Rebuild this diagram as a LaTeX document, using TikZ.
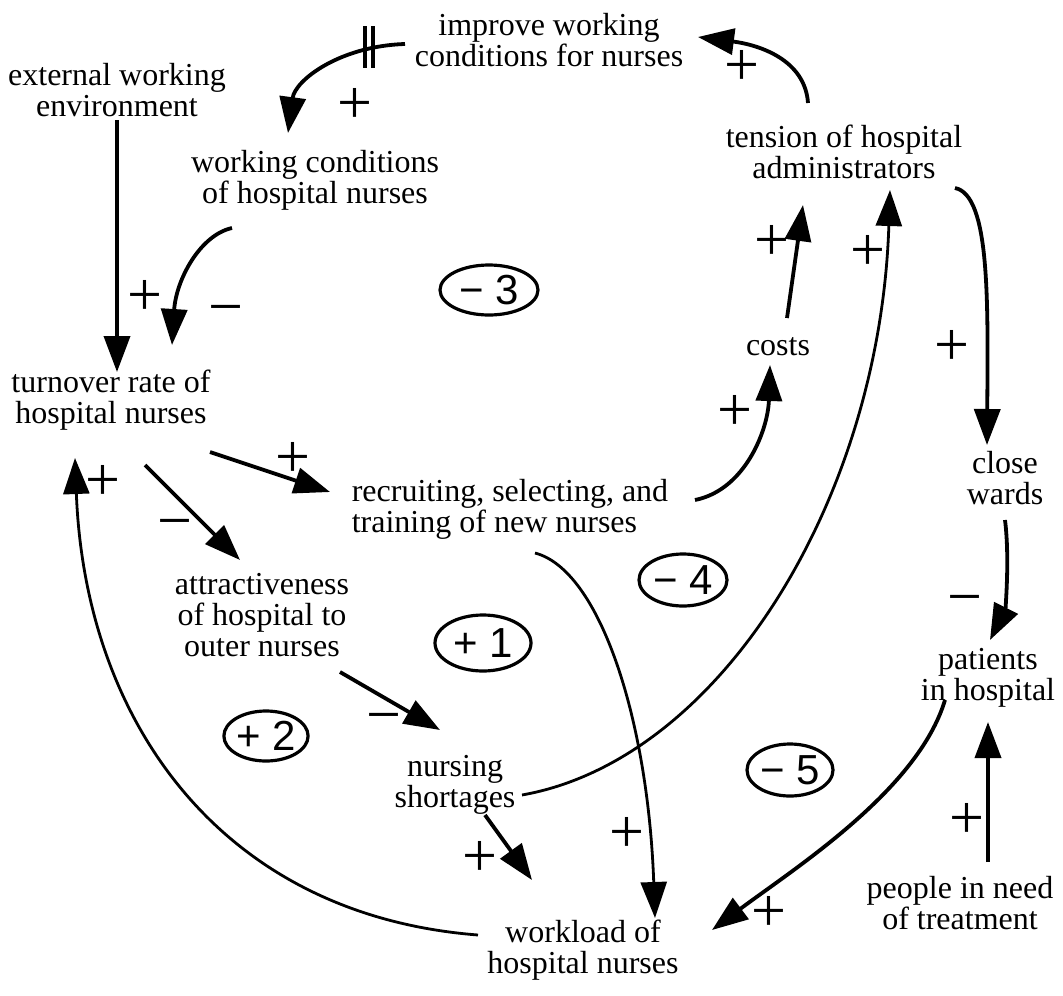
\documentclass[tikz,border=0pt]{standalone}
\usepackage{fontspec}
\setmainfont{Liberation Serif}
\newfontfamily\loopsans{Liberation Sans}
\usetikzlibrary{arrows.meta,shapes.geometric}
\newcommand\varfont{\fontsize{32}{31}\selectfont}
\newcommand\polfont{\fontsize{62}{62}\selectfont}
\newcommand\loopfont{\loopsans\fontsize{42}{42}\selectfont}
\tikzset{
  var/.style={font=\varfont, align=center, inner sep=1pt},
  lnk/.style={line width=3.8pt, -{Triangle[length=36pt,width=26pt]}},
  thinlnk/.style={line width=2.8pt, -{Triangle[length=36pt,width=26pt]}},
  pol/.style={font=\polfont, inner sep=0pt, text height=31.4pt, text depth=0pt},
  loopl/.style={ellipse, draw, line width=3.2pt, font=\loopfont, inner sep=0pt},
  delaybar/.style={line width=3.2pt}
}
\begin{document}
\begin{tikzpicture}[x=1pt,y=-1pt]
\useasboundingbox (0,0) rectangle (1063,996);
% variables
\node[var] (imp) at (549,40) {improve working\\conditions for nurses};
\node[var] (ext) at (117,90) {external working\\environment};
\node[var] (wc) at (315,180) {working conditions\\of hospital nurses};
\node[var] (ten) at (844,152) {tension of hospital\\administrators};
\node[var] (cost) at (778,347) {costs};
\node[var] (turn) at (111,400) {turnover rate of\\hospital nurses};
\node[var] (close) at (1005,478) {close\\wards};
\node[var, align=left] (rec) at (510,509) {recruiting, selecting, and\\training of new nurses};
\node[var] (att) at (262,615) {attractiveness\\of hospital to\\outer nurses};
\node[var] (pat) at (988,678) {patients\\in hospital};
\node[var] (short) at (455,785) {nursing\\shortages};
\node[var] (peop) at (960,903) {people in need\\of treatment};
\node[var] (work) at (583,950) {workload of\\hospital nurses};
% loop labels
\node[loopl, minimum width=98pt, minimum height=50pt] (l3) at (489,290) {− 3};
\node[loopl, minimum width=88pt, minimum height=52pt] (l4) at (683,580) {− 4};
\node[loopl, minimum width=96pt, minimum height=56pt] (l1) at (483,643) {+ 1};
\node[loopl, minimum width=82pt, minimum height=50pt] (l2) at (266,736) {+ 2};
\node[loopl, minimum width=86pt, minimum height=52pt] (l5) at (790,770) {− 5};
% links
\draw[lnk] ([shift={(-144,4)}]imp.center) .. controls (340,46) and (295,80) .. ([shift={(-27,-47)}]wc.center);
\draw[delaybar] (365,26) -- (365,68);
\draw[delaybar] (373,26) -- (373,68);
\draw[lnk] ([shift={(-36,-49)}]ten.center) .. controls (805,60) and (760,45) .. ([shift={(149,-3)}]imp.center);
\draw[lnk] ([shift={(0,30)}]ext.center) -- ([shift={(6,-28)}]turn.center);
\draw[lnk] ([shift={(-83,48)}]wc.center) .. controls (200,235) and (176,280) .. ([shift={(61,-55)}]turn.center);
\draw[lnk] ([shift={(99,52)}]turn.center) -- ([shift={(-180,-17)}]rec.center);
\draw[lnk] ([shift={(34,65)}]turn.center) -- ([shift={(-22,-55)}]att.center);
\draw[lnk] ([shift={(185,-9)}]rec.center) .. controls (745,490) and (768,430) .. ([shift={(-8,18)}]cost.center);
\draw[lnk] ([shift={(9,-29)}]cost.center) -- ([shift={(-41,53)}]ten.center);
\draw[lnk] ([shift={(111,36)}]ten.center) .. controls (990,195) and (988,300) .. ([shift={(-18,-33)}]close.center);
\draw[lnk] ([shift={(0,42)}]close.center) .. controls (1010,560) and (1005,610) .. ([shift={(2,-38)}]pat.center);
\draw[lnk] ([shift={(78,57)}]att.center) -- ([shift={(-15,-55)}]short.center);
\draw[thinlnk] ([shift={(67,10)}]short.center) .. controls (720,760) and (880,500) .. ([shift={(46,38)}]ten.center);
\draw[thinlnk] ([shift={(25,44)}]rec.center) .. controls (600,570) and (648,720) .. ([shift={(72,-32)}]work.center);
\draw[lnk] ([shift={(30,30)}]short.center) -- ([shift={(-51,-70)}]work.center);
\draw[lnk] ([shift={(-43,22)}]pat.center) .. controls (918,790) and (795,868) .. ([shift={(129,-20)}]work.center);
\draw[lnk] ([shift={(28,-41)}]peop.center) -- ([shift={(0,44)}]pat.center);
\draw[thinlnk] ([shift={(-105,-15)}]work.center) .. controls (220,915) and (85,720) .. ([shift={(-36,58)}]turn.center);
% polarities
\node[pol] (p1) at (355,108) {+};
\node[pol] (p2) at (742,70) {+};
\node[pol] (p3) at (145,300) {+};
\node[pol] (p4) at (226,312) {−};
\node[pol] (p5) at (293,462) {+};
\node[pol] (p6) at (175,526) {−};
\node[pol] (p7) at (735,415) {+};
\node[pol] (p8) at (772,245) {+};
\node[pol] (p9) at (868,255) {+};
\node[pol] (p10) at (952,350) {+};
\node[pol] (p11) at (965,602) {−};
\node[pol] (p12) at (384,720) {−};
\node[pol] (p13) at (627,837) {+};
\node[pol] (p14) at (480,861) {+};
\node[pol] (p15) at (769,916) {+};
\node[pol] (p16) at (967,823) {+};
\node[pol] (p17) at (103,485) {+};
\end{tikzpicture}
\end{document}
